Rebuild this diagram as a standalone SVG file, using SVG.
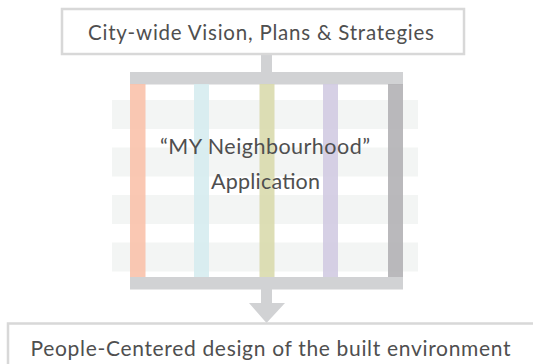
<svg xmlns="http://www.w3.org/2000/svg" width="533" height="364" viewBox="0 0 533 364">
  <style>
    .box { fill: #ffffff; stroke: #d8d8d8; stroke-width: 2.5; }
    .lbl { font-family: "Lato", "Open Sans", "Liberation Sans", sans-serif; fill: #4f4f4f; text-anchor: middle; }
    .band { fill: #f3f5f4; }
    .frame { fill: #d1d2d4; }
    .col { opacity: 0.85; }
  </style>
  <rect width="533" height="364" fill="#ffffff"/>
  <g id="connectors">
    <rect class="frame" x="261" y="55" width="11" height="17"/>
    <rect class="frame" x="261" y="289" width="11" height="15"/>
    <polygon class="frame" points="249,303 285,303 266.5,323"/>
  </g>
  <g id="node-top">
    <rect class="box" x="62" y="9" width="402" height="45"/>
    <text class="lbl" x="261" y="40" font-size="20.5" textLength="346">City-wide Vision, Plans &amp; Strategies</text>
  </g>
  <g id="node-app">
    <rect class="band" x="112" y="100" width="306" height="29"/>
    <rect class="band" x="112" y="147.5" width="306" height="29"/>
    <rect class="band" x="112" y="195" width="306" height="29"/>
    <rect class="band" x="112" y="242.5" width="306" height="29"/>
    <rect class="frame" x="130" y="72" width="273" height="12.5"/>
    <rect class="frame" x="130" y="277" width="273" height="12.5"/>
    <rect class="col" x="130" y="84" width="15.5" height="193" fill="#f9bea6"/>
    <rect class="col" x="194" y="84" width="15" height="193" fill="#d3ebef"/>
    <rect class="col" x="259.5" y="84" width="15" height="193" fill="#d7d8a8"/>
    <rect class="col" x="323" y="84" width="15" height="193" fill="#cfc8e0"/>
    <rect class="col" x="388" y="84" width="15" height="193" fill="#aeadb0"/>
    <text class="lbl" x="265" y="154" font-size="21.5" textLength="210">“MY Neighbourhood”</text>
    <text class="lbl" x="265.5" y="189" font-size="21.5" textLength="109">Application</text>
  </g>
  <g id="node-bottom">
    <rect class="box" x="8" y="323.5" width="540" height="50"/>
    <text class="lbl" x="270.5" y="356" font-size="21" textLength="480">People-Centered design of the built environment</text>
  </g>
</svg>
